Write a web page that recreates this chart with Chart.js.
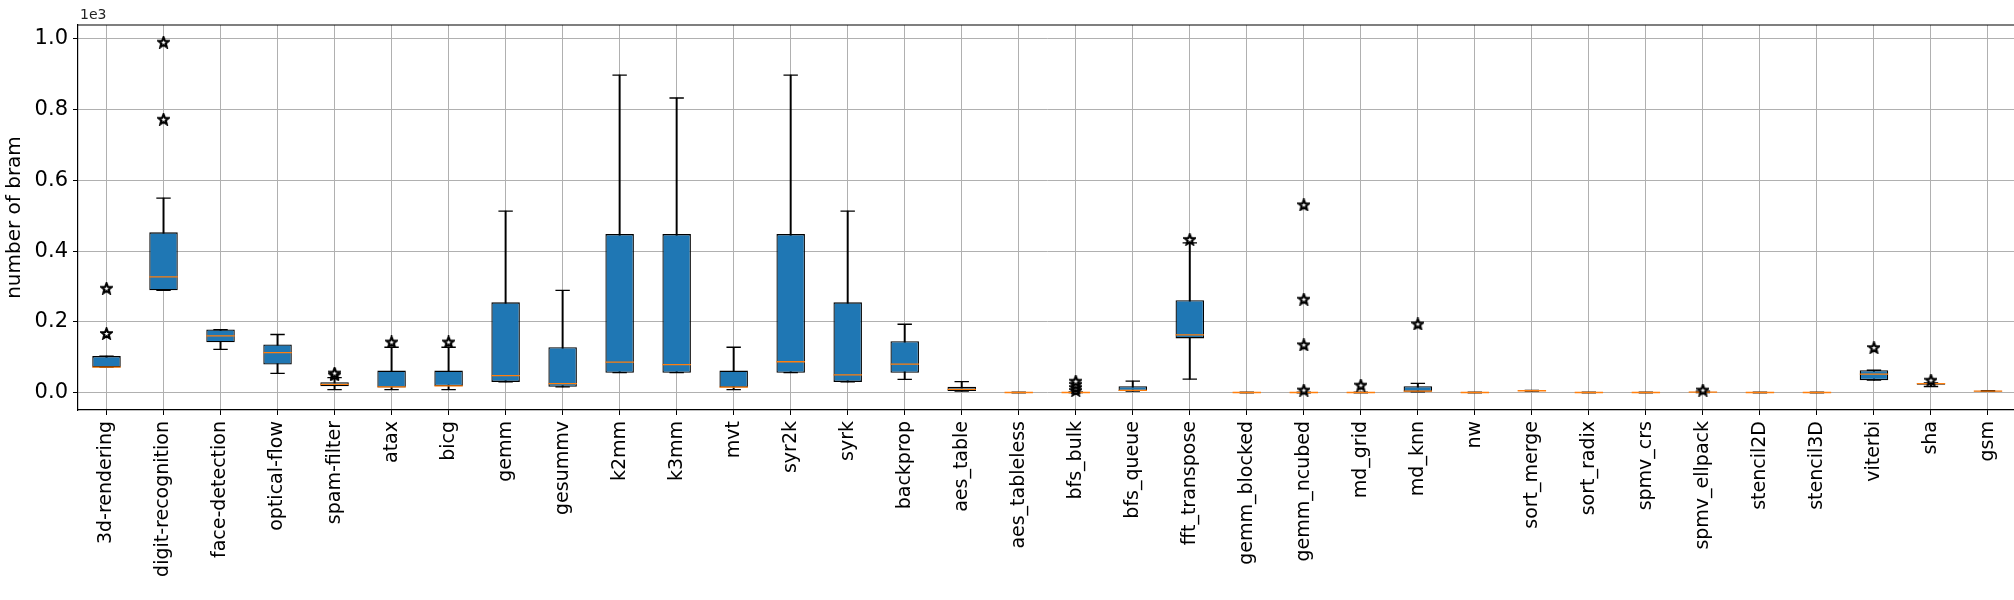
<!DOCTYPE html>
<html>
<head>
<meta charset="utf-8">
<script src="https://cdn.jsdelivr.net/npm/chart.js@4/dist/chart.umd.min.js"></script>
<style>
  html, body { margin: 0; padding: 0; background: #fff; overflow: hidden; }
  #wrap { width: 2032px; height: 600px; }
</style>
</head>
<body>
<div id="wrap"><canvas id="bram" width="2032" height="600"></canvas></div>
<script>
// benchmarks
const categories = [
	'3d-rendering', 'digit-recognition', 'face-detection', 'optical-flow', 'spam-filter',
	'atax', 'bicg', 'gemm', 'gesummv', 'k2mm', 'k3mm', 'mvt', 'syr2k', 'syrk', 'backprop',
	'aes_table', 'aes_tableless', 'bfs_bulk', 'bfs_queue', 'fft_transpose', 'gemm_blocked',
	'gemm_ncubed', 'md_grid', 'md_knn', 'nw', 'sort_merge', 'sort_radix', 'spmv_crs',
	'spmv_ellpack', 'stencil2D', 'stencil3D', 'viterbi', 'sha', 'gsm'
];

// box statistics (number of bram)
const whiskerLow  = [ 71, 289, 122,  54,  8,   8,   8,  30,  16,  56,  56,   8,  56,  30,  37,  4, 0, 0,  4,  38, 0, 0, 0,  2, 0, 4, 0, 0, 0, 0, 0, 35, 17, 3 ];
const quartile1   = [ 71, 289, 142,  79, 18,  14,  18,  30,  16,  56,  56,  14,  56,  30,  56,  4, 0, 0,  4, 153, 0, 0, 0,  2, 0, 4, 0, 0, 0, 0, 0, 35, 22, 3 ];
const medians     = [ 72, 327, 160, 113, 23,  16,  19,  48,  25,  86,  79,  15,  87,  50,  80,  9, 0, 0,  6, 163, 0, 0, 0,  4, 0, 5, 0, 0, 1, 0, 0, 52, 25, 4 ];
const quartile3   = [103, 453, 178, 136, 29,  62,  62, 255, 128, 448, 448,  62, 448, 255, 145, 16, 0, 0, 18, 261, 0, 0, 0, 18, 0, 6, 0, 0, 2, 0, 0, 63, 26, 5 ];
const whiskerHigh = [103, 550, 178, 164, 42, 128, 128, 513, 289, 898, 833, 128, 898, 513, 193, 31, 0, 1, 32, 423, 0, 0, 0, 26, 0, 6, 0, 0, 4, 0, 0, 63, 27, 5 ];

// fliers, per benchmark
const outliers = [
	[ 167, 295 ], [ 773, 991 ], [], [], [ 50, 55 ],
	[ 143 ], [ 143 ], [], [], [], [], [], [], [], [],
	[], [], [ 6, 14, 23, 32 ], [], [ 433 ], [],
	[ 7, 135, 264, 531 ], [ 21 ], [ 194 ], [], [], [], [],
	[ 7 ], [], [], [ 127 ], [ 35 ], []
];

const yTicks = [ 0, 200, 400, 600, 800, 1000 ];

// star marker like matplotlib '*'
const star = document.createElement( 'canvas' );
star.width = 13;
star.height = 13;
( function () {
	const c = star.getContext( '2d' );
	c.beginPath();
	for ( let i = 0; i < 10; i++ ) {
		const r = i % 2 ? 2.3 : 5.3;
		const a = -Math.PI / 2 + i * Math.PI / 5;
		c.lineTo( 6.5 + r * Math.cos( a ), 6.9 + r * Math.sin( a ) );
	}
	c.closePath();
	c.fillStyle = '#fff';
	c.fill();
	c.lineWidth = 2.2;
	c.strokeStyle = '#000';
	c.stroke();
} )();

const fliers = [];
outliers.forEach( function ( list, i ) {
	list.forEach( function ( v ) {
		fliers.push( { x: categories[ i ], y: v } );
	} );
} );
const caps = [];
categories.forEach( function ( cat, i ) {
	caps.push( { x: cat, y: whiskerLow[ i ] } );
	caps.push( { x: cat, y: whiskerHigh[ i ] } );
} );

// top spine and offset text
const frame = {
	id: 'frame',
	afterDraw: function ( chart ) {
		const ctx = chart.ctx;
		const a = chart.chartArea;
		ctx.save();
		ctx.strokeStyle = '#000';
		ctx.lineWidth = 1.2;
		ctx.beginPath();
		ctx.moveTo( a.left, a.top );
		ctx.lineTo( a.right, a.top );
		ctx.stroke();
		ctx.fillStyle = '#222';
		ctx.font = '14px "DejaVu Sans"';
		ctx.textBaseline = 'bottom';
		ctx.fillText( '1e3', a.left + 2, a.top - 3 );
		ctx.restore();
	}
};

const lineStyle = { type: 'line', showLine: false, pointHoverRadius: 0 };

new Chart( document.getElementById( 'bram' ), {
	type: 'bar',
	data: {
		labels: categories,
		datasets: [
			{
				label: 'whiskers',
				data: categories.map( ( c, i ) => [ whiskerLow[ i ], whiskerHigh[ i ] ] ),
				backgroundColor: '#000',
				barThickness: 1.3,
				grouped: false,
				order: 4
			},
			{
				label: 'box',
				data: categories.map( ( c, i ) => [ quartile1[ i ], quartile3[ i ] ] ),
				backgroundColor: '#1f77b4',
				borderColor: '#000',
				borderWidth: 1.3,
				borderSkipped: false,
				categoryPercentage: 1,
				barPercentage: 0.5,
				grouped: false,
				order: 3
			},
			Object.assign( {}, lineStyle, {
				label: 'caps',
				data: caps,
				pointStyle: 'line',
				pointRadius: 7.2,
				borderColor: '#000',
				borderWidth: 1.3,
				order: 2
			} ),
			Object.assign( {}, lineStyle, {
				label: 'median',
				data: medians,
				pointStyle: 'line',
				pointRadius: 14.2,
				borderColor: '#ff7f0e',
				borderWidth: 1.3,
				order: 1
			} ),
			Object.assign( {}, lineStyle, {
				label: 'fliers',
				data: fliers,
				pointStyle: star,
				order: 0
			} )
		]
	},
	options: {
		responsive: false,
		devicePixelRatio: 1,
		animation: false,
		layout: { padding: { top: 25, left: 0, right: 0, bottom: 0 } },
		plugins: { legend: { display: false }, tooltip: { enabled: false } },
		scales: {
			x: {
				offset: true,
				grid: { color: '#b0b0b0', lineWidth: 1, offset: false, tickColor: '#000', tickLength: 5 },
				border: { color: '#000', width: 1.2 },
				ticks: {
					minRotation: 90, maxRotation: 90, autoSkip: false, padding: 6,
					color: '#000', font: { family: '"DejaVu Sans"', size: 19 }
				},
				afterFit: function ( s ) { s.height = 190; }
			},
			y: {
				min: -49.5,
				max: 1039.5,
				afterBuildTicks: function ( s ) { s.ticks = yTicks.map( v => ( { value: v } ) ); },
				grid: { color: '#b0b0b0', lineWidth: 1, tickColor: '#000', tickLength: 5 },
				border: { color: '#000', width: 1.2 },
				ticks: {
					padding: 5, color: '#000', font: { family: '"DejaVu Sans"', size: 21 },
					callback: v => ( v / 1000 ).toFixed( 1 )
				},
				title: {
					display: true, text: 'number of bram', color: '#000', padding: 3,
					font: { family: '"DejaVu Sans"', size: 20 }
				},
				afterFit: function ( s ) { s.width = 78; }
			}
		}
	},
	plugins: [ frame ]
} );
</script>
</body>
</html>
